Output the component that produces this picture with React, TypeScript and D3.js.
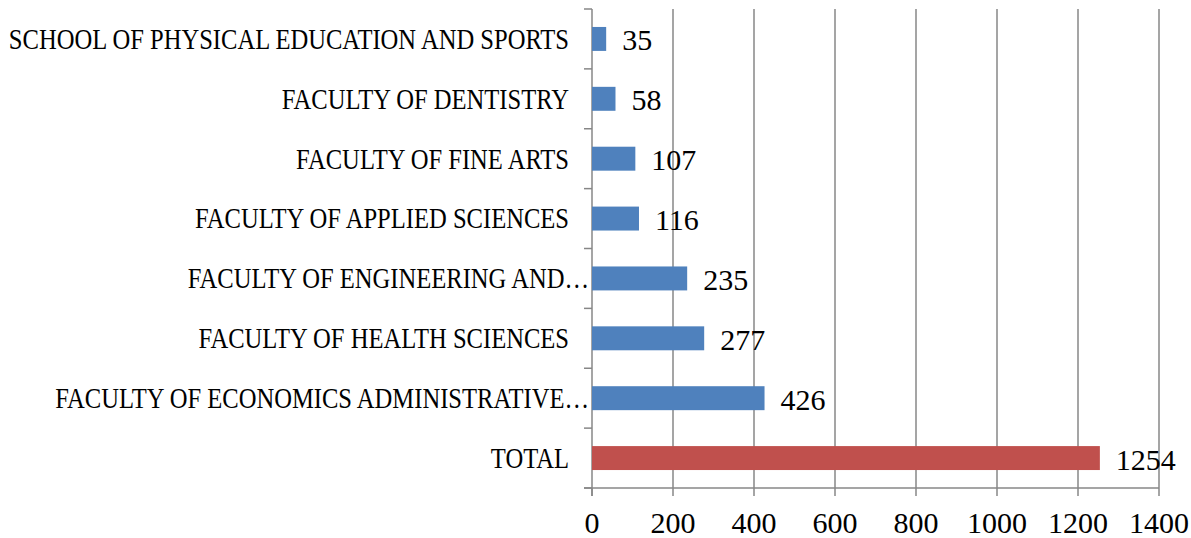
import React from "react";
import * as d3 from "d3";

// categories listed bottom to top as in the source chart
const categories = [
  "TOTAL",
  "FACULTY OF ECONOMICS ADMINISTRATIVE…",
  "FACULTY OF HEALTH SCIENCES",
  "FACULTY OF ENGINEERING AND…",
  "FACULTY OF APPLIED SCIENCES",
  "FACULTY OF FINE ARTS",
  "FACULTY OF DENTISTRY",
  "SCHOOL OF PHYSICAL EDUCATION AND SPORTS",
];
const counts = [1254, 426, 277, 235, 116, 107, 58, 35];
const xTicks = [0, 200, 400, 600, 800, 1000, 1200, 1400];

const width = 1191;
const height = 538;
const margin = { top: 9, right: 32, bottom: 50, left: 592 };
const font = "'Liberation Serif', 'Times New Roman', serif";
const grid = "#878787";

const App = () => {
  const x = d3
    .scaleLinear()
    .domain([0, 1400])
    .range([margin.left, width - margin.right]);

  const y = d3
    .scaleBand()
    .domain(categories)
    .range([height - margin.bottom, margin.top])
    .paddingInner(0.6)
    .paddingOuter(0.3);

  const step = y.step();
  const top = margin.top;
  const bottom = height - margin.bottom;
  const bounds = d3.range(categories.length + 1).map(i => top + i * step);

  return (
    <svg
      width={width}
      height={height}
      style={{ position: "absolute", left: 0, top: 0, background: "#fff" }}
    >
      {/* vertical gridlines */}
      {xTicks.slice(1).map(t => (
        <line key={t} x1={x(t)} x2={x(t)} y1={top} y2={bottom} stroke={grid} strokeWidth={1.5} />
      ))}

      {/* axes */}
      <line x1={x(0)} x2={x(0)} y1={top} y2={bottom + 8} stroke={grid} strokeWidth={1.5} />
      <line x1={x(0) - 8} x2={x(1400)} y1={bottom} y2={bottom} stroke={grid} strokeWidth={1.5} />
      {bounds.map((b, i) => (
        <line key={i} x1={x(0) - 8} x2={x(0)} y1={b} y2={b} stroke={grid} strokeWidth={1.5} />
      ))}
      {xTicks.map(t => (
        <g key={t}>
          <line x1={x(t)} x2={x(t)} y1={bottom} y2={bottom + 8} stroke={grid} strokeWidth={1.5} />
          <text
            x={x(t)}
            y={533}
            textAnchor="middle"
            fontFamily={font}
            fontSize={30}
            fill="#000"
          >
            {t}
          </text>
        </g>
      ))}

      {/* bars */}
      {categories.map((c, i) => {
        const cy = y(c) + y.bandwidth() / 2;
        const labelX = c.endsWith("…") ? 589 : 569;
        return (
          <g key={c}>
            <rect
              x={x(0)}
              y={y(c)}
              width={x(counts[i]) - x(0)}
              height={y.bandwidth()}
              fill={c === "TOTAL" ? "#C0504D" : "#4F81BD"}
            />
            <text
              transform={`translate(${labelX}, ${cy}) scale(1, 1.22)`}
              textAnchor="end"
              dominantBaseline="central"
              fontFamily={font}
              fontSize={24.6}
              fill="#000"
            >
              {c}
            </text>
            <text
              x={x(counts[i]) + 16}
              y={cy + 1}
              dominantBaseline="central"
              fontFamily={font}
              fontSize={30}
              fill="#000"
            >
              {counts[i]}
            </text>
          </g>
        );
      })}
    </svg>
  );
};

export default App;
